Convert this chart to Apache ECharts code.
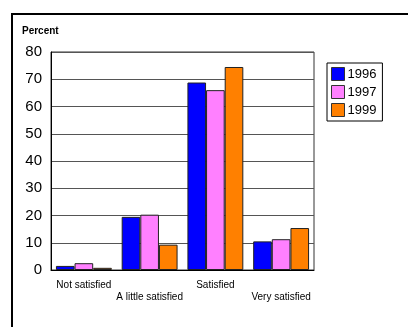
<!DOCTYPE html>
<html>
<head>
<meta charset="utf-8">
<script src="https://cdn.jsdelivr.net/npm/echarts@6/dist/echarts.min.js"></script>
<style>
  html, body { margin: 0; padding: 0; background: #fff; }
  #chart { width: 408px; height: 327px; }
</style>
</head>
<body>
<div id="chart"></div>
<script>
// Satisfaction level, share of respondents by survey year
const categories = ['Not satisfied', 'A little satisfied', 'Satisfied', 'Very satisfied'];
const years = ['1996', '1997', '1999'];
const values1996 = [1.5, 19.5, 68.8, 10.5];
const values1997 = [2.5, 20.3, 66.0, 11.3];
const values1999 = [0.8, 9.3, 74.5, 15.4];
const yTicks = [0, 10, 20, 30, 40, 50, 60, 70, 80];
const colors = ['#0000ff', '#ff80ff', '#ff8000'];

const seriesValues = [values1996, values1997, values1999];

const chart = echarts.init(document.getElementById('chart'), null, { renderer: 'canvas' });

chart.setOption({
  animation: false,
  textStyle: { fontFamily: 'Liberation Sans, Arial, sans-serif' },
  graphic: [
    {
      type: 'rect',
      shape: { x: 12, y: 14, width: 420, height: 340 },
      style: { fill: 'none', stroke: '#000', lineWidth: 2 },
      silent: true
    },
    {
      type: 'text',
      left: 22,
      top: 26,
      style: { text: 'Percent', font: 'bold 10px Liberation Sans, Arial, sans-serif', fill: '#000' }
    }
  ],
  legend: {
    orient: 'vertical',
    left: 327,
    top: 63,
    data: years,
    itemWidth: 13,
    itemHeight: 13,
    itemGap: 4,
    padding: [4, 6, 4, 4],
    borderColor: '#000',
    borderWidth: 1,
    textStyle: { fontSize: 13, color: '#000', padding: [0, 0, 0, -2] },
    icon: 'rect',
    itemStyle: { borderColor: '#333', borderWidth: 1 }
  },
  grid: {
    left: 51,
    right: 94,
    top: 52,
    bottom: 57,
    show: true,
    borderColor: '#333',
    borderWidth: 1
  },
  xAxis: {
    type: 'category',
    data: categories,
    axisLine: { lineStyle: { color: '#000', width: 1 } },
    axisTick: { show: false },
    axisLabel: {
      interval: 0,
      fontSize: 10,
      color: '#000',
      margin: 9,
      lineHeight: 12,
      formatter: (v, i) => (i % 2 ? '\n' + v : v)
    }
  },
  yAxis: {
    type: 'value',
    min: yTicks[0],
    max: yTicks[yTicks.length - 1],
    interval: 10,
    axisLine: { show: true, lineStyle: { color: '#000' } },
    axisTick: { show: false },
    axisLabel: { fontSize: 15, color: '#000', margin: 9 },
    splitLine: { lineStyle: { color: '#555', width: 1 } }
  },
  series: years.map((y, i) => ({
    name: y,
    type: 'bar',
    data: seriesValues[i],
    barGap: '0%',
    barCategoryGap: '15%',
    itemStyle: { color: colors[i], borderColor: '#222', borderWidth: 1 }
  }))
});
</script>
</body>
</html>
